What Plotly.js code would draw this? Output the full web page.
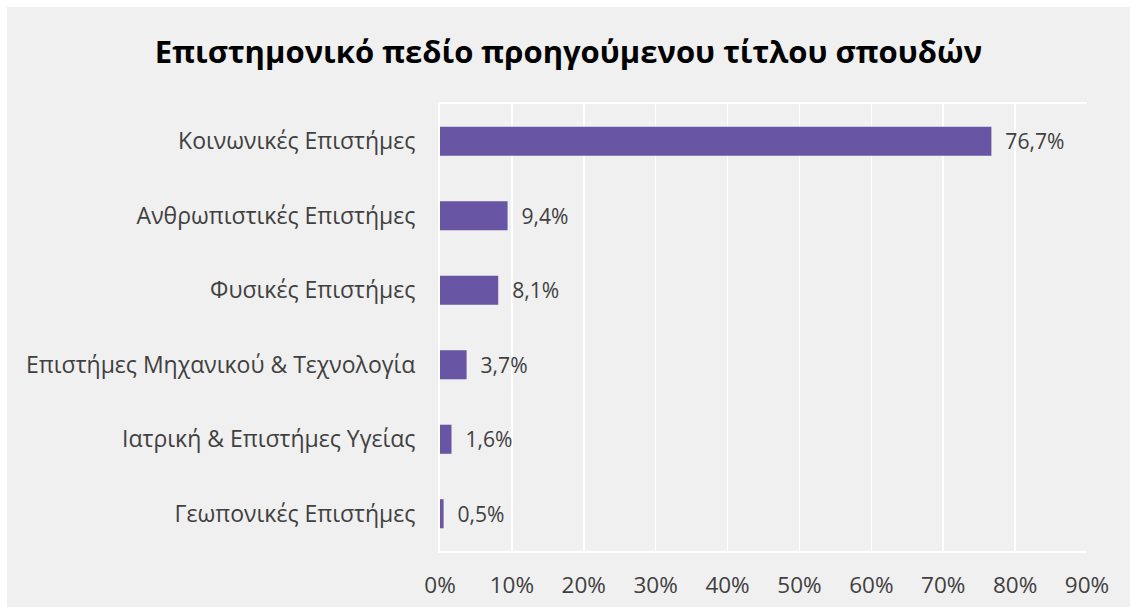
<!DOCTYPE html>
<html>
<head>
<meta charset="utf-8">
<script src="https://cdn.plot.ly/plotly-3.0.1.min.js"></script>
<style>
html,body{margin:0;padding:0;background:#ffffff;width:1130px;height:607px;overflow:hidden;}
#chart{position:absolute;left:7px;top:7px;width:1123px;height:600px;}
</style>
</head>
<body>
<div id="chart"></div>
<script>
const categories = [
  "Κοινωνικές Επιστήμες",
  "Ανθρωπιστικές Επιστήμες",
  "Φυσικές Επιστήμες",
  "Επιστήμες Μηχανικού & Τεχνολογία",
  "Ιατρική & Επιστήμες Υγείας",
  "Γεωπονικές Επιστήμες"
];
const values = [76.7, 9.4, 8.1, 3.7, 1.6, 0.5];
const tickValues = [0, 10, 20, 30, 40, 50, 60, 70, 80, 90];
const chartTitle = "Επιστημονικό πεδίο προηγούμενου τίτλου σπουδών";

const FONT = "Open Sans, Noto Sans, DejaVu Sans, sans-serif";

const trace = {
  type: "bar",
  orientation: "h",
  x: values,
  y: categories,
  marker: {color: "#6855a4"},
  texttemplate: "\u00a0\u00a0%{x:.1f}%",
  textposition: "outside",
  cliponaxis: false,
  textfont: {family: FONT, size: 22.5, color: "#404040"},
  hoverinfo: "none"
};

const layout = {
  width: 1123,
  height: 600,
  paper_bgcolor: "#f0f0f0",
  plot_bgcolor: "#f0f0f0",
  separators: ",.",
  margin: {l: 433, r: 43, t: 97, b: 56},
  bargap: 0.61,
  showlegend: false,
  title: {
    text: "<b>" + chartTitle + "</b>",
    font: {family: FONT, size: 31, color: "#000000"},
    x: 0.5, xanchor: "center",
    y: 0.925, yanchor: "middle"
  },
  xaxis: {
    range: [0, 90],
    tickvals: tickValues,
    ticktext: tickValues.map(v => v + "%"),
    showgrid: true,
    gridcolor: "#ffffff",
    gridwidth: 1.5,
    zeroline: false,
    showline: true,
    linecolor: "#ffffff",
    linewidth: 2,
    mirror: true,
    ticks: "",
    ticklabelstandoff: 13,
    tickfont: {family: FONT, size: 22.5, color: "#404040"},
    fixedrange: true
  },
  yaxis: {
    autorange: "reversed",
    showgrid: false,
    zeroline: false,
    showline: true,
    linecolor: "#ffffff",
    linewidth: 2,
    ticks: "",
    ticklabelstandoff: 18,
    tickfont: {family: FONT, size: 23, color: "#404040"},
    fixedrange: true
  }
};

Plotly.newPlot("chart", [trace], layout, {displayModeBar: false, staticPlot: true});
</script>
</body>
</html>
